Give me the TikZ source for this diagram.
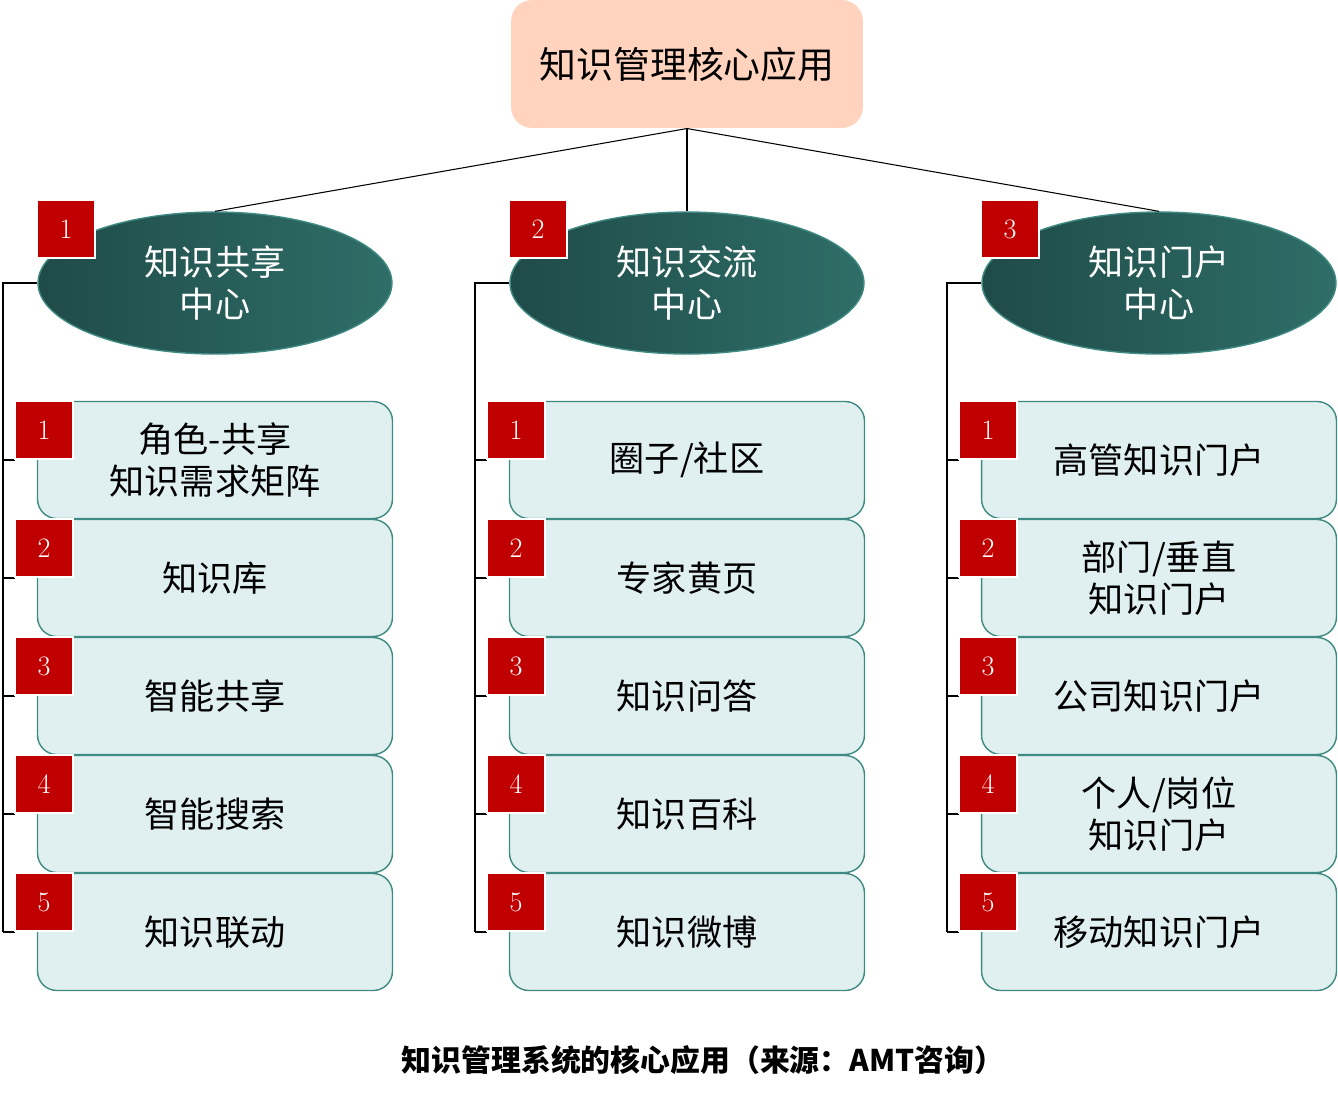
\documentclass[tikz,border=0pt]{standalone}
\usepackage{fontspec}
\newfontfamily\cjk{Noto Sans CJK SC}
\usetikzlibrary{positioning, shapes.geometric}
\definecolor{peach}{HTML}{FFD3BE}
\definecolor{tealdark}{HTML}{1F4B48}
\definecolor{teallight}{HTML}{2F6E68}
\definecolor{cardfill}{HTML}{E0F0F0}
\definecolor{cardline}{HTML}{3F8A82}
\definecolor{badgered}{HTML}{C00000}
\tikzset{
  root/.style={rectangle, rounded corners=12pt, fill=peach, minimum width=7.04cm, minimum height=2.56cm, font=\cjk\fontsize{21}{25}\selectfont},
  hub/.style={ellipse, draw=cardline, thick, left color=tealdark, right color=teallight, text=white, minimum width=7.08cm, minimum height=2.84cm, align=center, font=\cjk\fontsize{20}{24}\selectfont},
  card/.style={rectangle, rounded corners=11pt, draw=cardline, thick, fill=cardfill, minimum width=7.1cm, minimum height=2.34cm, align=center, font=\cjk\fontsize{20}{24}\selectfont},
  badge/.style={rectangle, fill=badgered, draw=white, thick, text=white, minimum size=1.16cm, font=\fontsize{16}{18}\selectfont},
  lbl/.style={font=\cjk\fontsize{20}{24}\selectfont, align=center},
}
\begin{document}
\begin{tikzpicture}[x=0.02cm, y=-0.02cm, semithick]
  \useasboundingbox (0,0) rectangle (1338,1100);
  \node[root] (root) at (687,64) {知识管理核心应用};

  \foreach \c/\cx/\htxt in {1/215/{知识共享\\中心}, 2/687/{知识交流\\中心}, 3/1159/{知识门户\\中心}} {
    \node[hub] (hub\c) at (\cx,283) {\htxt};
    \node[badge] (hb\c) at (\cx-149,229) {\c};
    \draw (root.south) -- (hub\c.north);
    \coordinate (rail\c) at (\cx-212,283);
    \draw (hub\c.west) -- (rail\c) -- ++(0,649);
  }

  \foreach \c/\cx in {1/215, 2/687, 3/1159} {
    \foreach \r in {1,...,5} {
      \pgfmathsetmacro\cy{460+118*(\r-1)}
      \coordinate (tick\c\r) at (\cx-212,\cy);
      \node[card] (card\c\r) at (\cx,\cy) {};
      \draw (tick\c\r) -- ++(12,0);
      \node[badge] (cb\c\r) at (\cx-171,\cy-30) {\r};
    }
  }

  \node[lbl] at (card11) {角色-共享\\知识需求矩阵};
  \node[lbl] at (card12) {知识库};
  \node[lbl] at (card13) {智能共享};
  \node[lbl] at (card14) {智能搜索};
  \node[lbl] at (card15) {知识联动};
  \node[lbl] at (card21) {圈子/社区};
  \node[lbl] at (card22) {专家黄页};
  \node[lbl] at (card23) {知识问答};
  \node[lbl] at (card24) {知识百科};
  \node[lbl] at (card25) {知识微博};
  \node[lbl] at (card31) {高管知识门户};
  \node[lbl] at (card32) {部门/垂直\\知识门户};
  \node[lbl] at (card33) {公司知识门户};
  \node[lbl] at (card34) {个人/岗位\\知识门户};
  \node[lbl] at (card35) {移动知识门户};

  \node[font=\cjk\bfseries\fontsize{17}{20}\selectfont] (caption) at (703,1060) {知识管理系统的核心应用（来源：AMT咨询）};
\end{tikzpicture}
\end{document}
